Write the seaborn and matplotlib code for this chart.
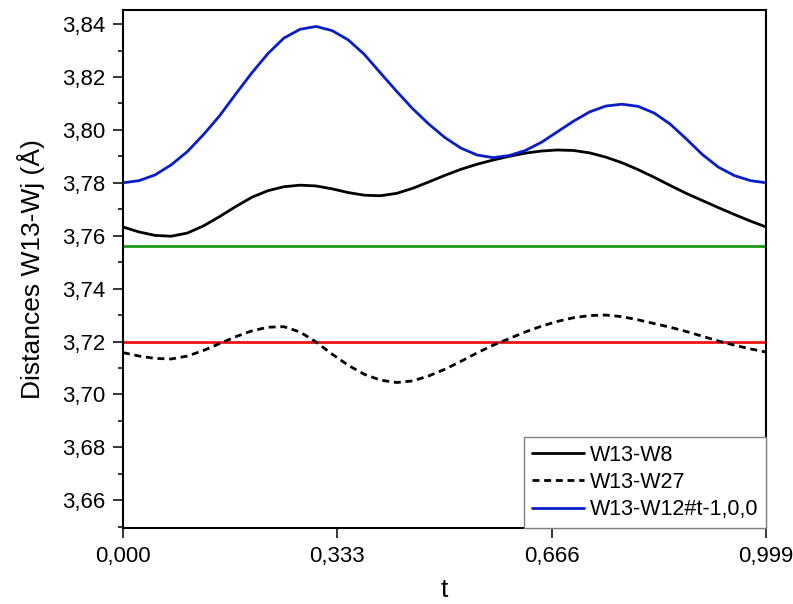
import numpy as np
import pandas as pd
import matplotlib
matplotlib.use("Agg")
import matplotlib.pyplot as plt
import matplotlib.ticker as mticker
import seaborn as sns

# time grid (fraction of the period)
t = [0.0, 0.025, 0.05, 0.075, 0.1, 0.125, 0.15, 0.175, 0.2, 0.225,
     0.25, 0.275, 0.3, 0.325, 0.35, 0.375, 0.4, 0.425, 0.45, 0.475,
     0.5, 0.525, 0.55, 0.575, 0.6, 0.625, 0.65, 0.675, 0.7, 0.725,
     0.75, 0.775, 0.8, 0.825, 0.85, 0.875, 0.9, 0.925, 0.95, 0.975, 0.999]

w13_w8 = [3.7633, 3.7614, 3.7601, 3.7598, 3.7610, 3.7637, 3.7672, 3.7710, 3.7745, 3.7770,
          3.7785, 3.7791, 3.7788, 3.7777, 3.7763, 3.7753, 3.7751, 3.7760, 3.7779, 3.7803,
          3.7828, 3.7851, 3.7870, 3.7886, 3.7900, 3.7912, 3.7920, 3.7924, 3.7922, 3.7913,
          3.7897, 3.7876, 3.7850, 3.7821, 3.7790, 3.7760, 3.7733, 3.7706, 3.7680, 3.7655, 3.7633]

w13_w27 = [3.7158, 3.7145, 3.7136, 3.7134, 3.7145, 3.7166, 3.7192, 3.7218, 3.7240, 3.7254,
           3.7256, 3.7236, 3.7198, 3.7152, 3.7110, 3.7076, 3.7054, 3.7045, 3.7051, 3.7070,
           3.7095, 3.7125, 3.7157, 3.7186, 3.7211, 3.7236, 3.7258, 3.7276, 3.7290, 3.7298,
           3.7300, 3.7294, 3.7282, 3.7268, 3.7254, 3.7238, 3.7220, 3.7202, 3.7186, 3.7172, 3.7160]

w13_w12 = [3.7800, 3.7808, 3.7830, 3.7868, 3.7918, 3.7982, 3.8053, 3.8135, 3.8215, 3.8288,
           3.8347, 3.8380, 3.8391, 3.8375, 3.8340, 3.8285, 3.8215, 3.8146, 3.8080, 3.8022,
           3.7971, 3.7931, 3.7905, 3.7895, 3.7903, 3.7922, 3.7953, 3.7993, 3.8033, 3.8068,
           3.8090, 3.8097, 3.8089, 3.8064, 3.8022, 3.7966, 3.7907, 3.7859, 3.7827, 3.7808, 3.7800]

level_green = 3.756
level_red = 3.72

sns.set_style("ticks")
plt.rcParams['font.family'] = ['Liberation Sans', 'DejaVu Sans']
plt.rcParams['text.color'] = 'black'
plt.rcParams['axes.labelcolor'] = 'black'

fig = plt.figure(figsize=(7.93, 6.04), dpi=100)
ax = fig.add_axes([0.1551, 0.1258, 0.966 - 0.1551, 0.9834 - 0.1258])

lw = 2.0
ax.axhline(level_green, color="#169c16", lw=lw, zorder=2)
ax.axhline(level_red, color="#f01414", lw=lw, zorder=2)
sns.lineplot(x=t, y=w13_w8, ax=ax, color="black", lw=lw, label="W13-W8", zorder=3)
sns.lineplot(x=t, y=w13_w27, ax=ax, color="black", lw=lw, linestyle=(0, (2.5, 1.7)),
             label="W13-W27", zorder=3)
sns.lineplot(x=t, y=w13_w12, ax=ax, color="#0a1ec8", lw=lw, label="W13-W12#t-1,0,0", zorder=3)
for ln in ax.get_lines():
    ln.set_solid_joinstyle("round")

ax.set_xlim(0, 0.999)
ax.set_ylim(3.6495, 3.8453)
ax.set_xticks([0.0, 0.333, 0.666, 0.999])
ax.yaxis.set_major_locator(mticker.MultipleLocator(0.02))
ax.yaxis.set_minor_locator(mticker.MultipleLocator(0.01))
ax.xaxis.set_major_formatter(mticker.FuncFormatter(lambda v, p: f"{v:.3f}".replace(".", ",")))
ax.yaxis.set_major_formatter(mticker.FuncFormatter(lambda v, p: f"{v:.2f}".replace(".", ",")))

ax.tick_params(axis="both", which="major", direction="out", length=7, width=1.1,
               labelsize=16, pad=6, color="black", labelcolor="black")
ax.tick_params(axis="y", which="minor", direction="out", length=3.5, width=1.1, color="black")
for s in ax.spines.values():
    s.set_visible(True)
    s.set_linewidth(1.5)
    s.set_color("black")

ax.set_xlabel("t", fontsize=19, labelpad=8, color="black")
ax.set_ylabel("Distances W13-Wj (Å)", fontsize=19, labelpad=12, color="black")

leg = ax.legend(loc="lower right", fontsize=15.5, frameon=True, fancybox=False,
                borderaxespad=0, handlelength=2.4, handletextpad=0.3,
                labelspacing=0.3, borderpad=0.35)
leg.get_frame().set_edgecolor("#808080")
leg.get_frame().set_linewidth(1.0)
leg.get_frame().set_alpha(1)

fig.savefig("out.png", dpi=100)
